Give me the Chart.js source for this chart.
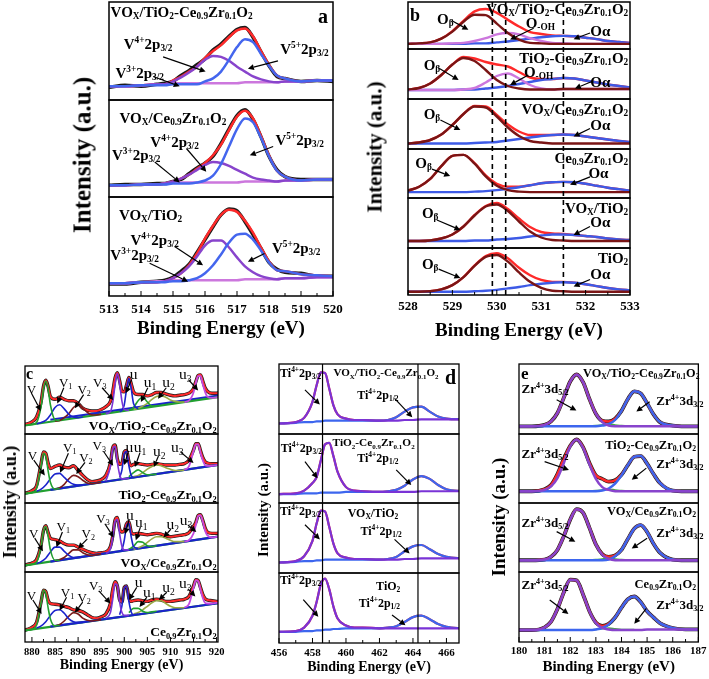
<!DOCTYPE html>
<html><head><meta charset="utf-8">
<script src="https://cdn.jsdelivr.net/npm/chart.js@4.4.1/dist/chart.umd.min.js"></script>
<style>
html,body{margin:0;padding:0;background:#fff;width:709px;height:679px;overflow:hidden;position:relative;font-family:"Liberation Serif","Times New Roman",serif;}
.panel{position:absolute;}
.panel canvas{position:absolute;left:0;top:0;}
.lbl{position:absolute;white-space:nowrap;line-height:1;color:#000;}
.lbl sub{font-size:0.62em;vertical-align:-0.32em;line-height:0;}
.lbl sup{font-size:0.62em;vertical-align:0.62em;line-height:0;}
.ytitle{position:absolute;white-space:nowrap;font-weight:bold;line-height:1;transform:translate(-50%,-50%) rotate(-90deg);color:#000;}
</style></head><body>
<script>
// ---------------- DATA ----------------
// Panel a : V 2p3/2
const ticksA = [513,514,515,516,517,518,519,520];
const xA = [513,513.5,514,514.5,514.75,515,515.25,515.5,515.75,516,516.25,516.5,516.75,517,517.25,517.5,517.75,518,518.25,518.5,519,519.5,520];
const a1Data = [13,15,14,16,17,19,25,30,36,42,51,57,65,72,74,64,49,35,24,22,19,20,19];
const a1Fit  = [14,14,15,16,16,20,24,29,34,43,50,56,64,71,73,65,50,36,25,22,19,20,20];
const a1V5   = [14,14,15,15,15,16,16,16,16,19,22,29,41,54,62,59,47,35,25,22,19,20,20];
const a1V4   = [14,14,15,16,16,19,23,28,34,41,45,44,40,34,29,24,21,19,18,19,19,20,20];
const a1V3   = [14,14,15,16,16,17,17,17,17,17,17,17,17,17,18,18,18,18,18,19,19,20,20];
const a2Data = [12,13,13,14,14,16,18,24,30,35,42,55,70,84,90,80,62,42,28,21,18,18,18];
const a2Fit  = [12,12,13,13,14,16,19,23,29,35,43,54,69,83,89,81,63,43,27,21,17,18,18];
const a2V5   = [12,12,13,13,13,14,14,14,15,17,22,34,52,70,81,77,61,42,27,21,17,18,18];
const a2V4   = [12,12,13,13,14,16,19,23,28,33,36,35,32,28,24,20,18,17,16,17,17,18,18];
const a2V3   = [12,12,13,13,14,15,15,15,15,15,15,15,15,15,16,16,16,16,16,17,17,18,18];
const a3Data = [12,12,14,15,16,19,25,32,44,57,70,82,88,86,75,62,48,34,27,24,23,20,20];
const a3Fit  = [13,13,14,14,15,18,23,31,43,58,71,82,87,85,76,64,49,35,26,25,22,21,20];
const a3V5   = [13,13,14,14,14,15,15,16,18,23,31,42,54,62,63,57,46,34,26,25,22,21,20];
const a3V4   = [13,13,14,14,15,18,23,30,40,51,56,56,49,39,30,24,20,18,17,18,18,19,19];
const a3V3   = [13,13,14,15,15,16,16,16,16,16,16,16,16,16,17,17,17,17,17,18,18,19,19];

// Panel b : O 1s
const ticksB = [528,529,530,531,532,533];
const refLinesB = [529.9,530.2,531.5];
const xB = [528,528.25,528.5,528.75,529,529.25,529.5,529.75,530,530.25,530.5,530.75,531,531.25,531.5,531.75,532,532.25,532.5,532.75,533];
const b1Fit = [11,12,14,22,38,60,80,85,77,62,48,36,32,29,28,27,24,21,17,15,13];
const b1Ob  = [11,12,14,22,37,58,73,72,54,34,20,13,12,11,11,11,11,11,11,11,11];
const b1Ooh = [11,11,11,11,12,13,17,23,31,34,31,23,17,13,12,11,11,11,11,11,11];
const b1Oa  = [11,11,11,11,11,11,12,12,14,16,19,22,25,27,28,27,24,21,17,15,13];
const b2Fit = [19,22,31,48,69,84,81,74,69,65,54,43,40,40,42,41,37,33,29,26,23];
const b2Ob  = [19,22,31,48,69,82,76,58,38,26,21,19,19,19,20,20,20,20,20,20,20];
const b2Ooh = [18,18,18,18,18,19,22,33,46,51,41,28,21,19,20,20,20,20,20,20,20];
const b2Oa  = [18,18,18,18,18,19,19,21,23,26,30,34,38,40,42,41,37,33,29,26,23];
const b3Fit = [11,13,18,29,48,70,86,85,68,49,35,28,28,28,29,28,25,22,19,16,14];
const b3Ob  = [11,13,18,29,48,70,85,83,65,43,26,16,13,11,11,11,11,11,11,11,11];
const b3Oa  = [11,11,11,11,11,11,12,13,14,17,20,23,26,28,29,28,25,22,19,16,14];
const b4Fit = [15,23,39,65,86,88,71,46,29,23,23,26,30,32,33,32,29,25,21,18,15];
const b4Ob  = [15,23,39,65,86,88,70,44,25,16,13,12,12,12,12,12,12,12,12,12,12];
const b4Oa  = [12,12,12,12,12,12,13,14,16,19,22,26,30,32,33,32,29,25,21,18,15];
const b5Fit = [14,14,15,19,27,43,66,84,90,78,59,42,32,29,28,26,24,22,19,17,16];
const b5Ob  = [14,14,15,19,27,43,65,83,87,74,53,33,21,16,15,14,14,14,14,14,14];
const b5Oa  = [14,14,14,14,14,14,15,15,17,18,20,23,25,27,27,26,24,22,19,17,16];
const b6Fit = [7,7,8,12,21,38,63,83,89,78,58,42,32,28,28,26,23,19,15,12,10];
const b6Ob  = [7,7,8,12,21,38,62,81,85,71,48,28,15,9,8,7,7,7,7,7,7];
const b6Oa  = [7,7,7,7,7,7,8,9,11,14,17,21,24,26,27,26,23,19,15,12,10];

// Panel c : Ce 3d
const ticksC = [880,885,890,895,900,905,910,915,920];
const xCfit = [878,879,880,881,882,882.5,883,883.5,884,885,886,887,888,889,890,891,892,893,894,895,896,897,897.5,898,898.5,899,899.5,900,900.5,901,901.5,902,903,904,905,906,907,908,909,910,911,912,913,914,915,915.5,916,916.5,917,917.5,918,919,920,921];
const c1Fit = [14,15,18,25,48,70,79,70,55,51,54,51,49,49,45,38,35,34,34,36,40,48,62,82,90,78,63,62,72,83,74,62,58,58,56,58,61,61,59,57,56,57,58,60,67,77,86,87,78,68,63,60,60,61];
const c2Fit = [14,15,18,25,58,74,72,58,50,53,55,52,51,54,47,40,34,31,32,34,40,58,80,84,64,56,58,74,76,60,54,56,57,56,55,56,57,56,55,55,55,56,57,62,77,86,86,76,66,60,58,57,57,58];
const c3Fit = [9,11,13,18,40,60,67,57,49,47,45,41,39,39,36,33,30,28,27,28,29,37,52,75,79,62,58,60,70,73,58,55,56,55,54,55,56,55,52,51,52,53,54,57,66,72,82,83,75,64,58,56,56,57];
const c4Fit = [16,18,21,28,58,74,72,60,55,54,53,51,49,46,45,43,39,35,34,36,40,55,75,86,80,60,57,78,80,63,58,59,60,59,58,60,61,60,58,58,59,60,61,65,80,89,88,78,68,62,60,59,58,58];
const xCv  = [879,880,881,882,882.5,883,883.5,884,885,886];
const c1V = [13,14,17,41,66,78,67,43,21,20];
const c2V = [14,15,21,55,72,68,47,30,20,21];
const c3V = [10,11,14,38,59,66,52,32,17,17];
const c4V = [17,18,24,57,74,69,49,33,23,24];
const xCv1 = [881,882,883,884,885,886,887,888,889,890,891];
const c1V1 = [15,17,20,28,39,43,37,29,25,24,25];
const c2V1 = [17,20,26,35,42,43,37,31,27,26,26];
const c3V1 = [12,15,20,29,36,36,30,24,21,21,22];
const c4V1 = [20,23,29,38,45,46,41,33,29,28,28];
const xCv2 = [885,886,887,888,889,890,891,892,893,894,895];
const c1V2 = [19,20,24,30,39,43,38,32,28,28,29];
const c2V2 = [20,22,27,35,40,38,33,29,28,29,30];
const c3V2 = [16,18,21,27,32,32,28,25,24,25,26];
const c4V2 = [23,25,30,37,42,40,34,31,30,31,32];
const xCv3 = [896,897,897.5,898,898.5,899,899.5,900,901];
const c1V3 = [30,33,46,72,89,73,48,36,35];
const c2V3 = [32,53,78,82,59,41,35,35,36];
const c3V3 = [27,33,49,73,76,55,37,32,32];
const c4V3 = [34,42,61,83,81,57,42,38,38];
const xCu  = [899,899.5,900,900.5,901,901.5,902,903];
const c1U = [33,35,43,66,82,67,45,37];
const c2U = [37,48,72,75,54,40,37,38];
const c3U = [30,33,46,67,71,51,37,34];
const c4U = [39,52,77,80,58,43,39,40];
const xCu1 = [901,902,903,904,905,906,907];
const c1U1 = [35,39,49,54,47,41,41];
const c2U1 = [38,44,48,44,41,41,42];
const c3U1 = [33,37,44,43,38,37,38];
const c4U1 = [42,48,48,44,42,43,44];
const xCu2 = [902,903,904,905,906,907,908,909,910,911,912,913];
const c1U2 = [36,38,41,45,51,55,56,54,50,48,47,47];
const c2U2 = [38,40,44,49,53,55,54,51,49,47,47,48];
const c3U2 = [33,35,38,43,48,51,51,49,46,44,44,44];
const c4U2 = [40,42,46,51,56,59,59,55,51,49,49,49];
const xCu3 = [913,914,915,915.5,916,916.5,917,917.5,918,919,920,921];
const c1U3 = [47,49,61,75,85,85,73,62,55,53,54,55];
const c2U3 = [48,53,75,85,85,73,62,55,54,54,55,56];
const c3U3 = [44,46,56,68,81,82,73,60,53,50,51,52];
const c4U3 = [49,54,77,88,87,75,63,56,55,55,56,56];
const xCbase  = [878,921];
const c1Base = [12,55], c2Base = [13,56], c3Base = [9,52], c4Base = [16,56];
const xCbase2 = [884,921];
const c1Base2 = [21,57], c2Base2 = [19,56], c3Base2 = [15,52], c4Base2 = [22,56];

// Panel d : Ti 2p
const ticksD = [456,458,460,462,464,466];
const refLinesD = [458.6,464.3];
const xD = [456,457,457.5,458,458.25,458.5,458.75,459,459.25,459.5,460,460.5,461,462,462.5,463,463.5,464,464.5,465,465.5,466,467];
const d1P = [15,17,23,46,70,88,87,65,41,28,22,20,20,19,19,19,20,20,21,21,21,21,21];
const d1B = [15,16,17,17,18,18,19,19,19,19,19,19,19,19,20,24,32,38,39,32,25,22,21];
const d1Fit = [15,17,23,46,70,88,87,65,41,28,22,20,20,19,20,24,32,38,39,32,25,22,21];
const d2P = [13,14,18,29,38,62,85,87,68,45,23,18,17,16,16,16,16,16,17,17,17,17,17];
const d2B = [13,13,14,14,14,15,15,15,15,15,16,16,16,16,17,19,25,34,39,35,26,20,17];
const d2Fit = [13,14,18,29,38,62,85,87,68,45,23,18,17,16,17,19,25,34,39,35,26,20,17];
const d3P = [15,17,24,46,71,89,88,66,42,28,22,20,20,19,19,19,20,20,21,21,21,21,21];
const d3B = [15,16,17,17,18,18,19,19,19,19,19,19,19,19,20,23,31,38,40,34,27,23,21];
const d3Fit = [15,17,24,46,71,89,88,66,42,28,22,20,20,19,20,23,31,38,40,34,27,23,21];
const d4P = [16,17,22,39,59,84,92,77,52,35,25,22,22,21,21,21,21,21,21,21,21,21,21];
const d4B = [16,16,17,17,18,18,19,19,20,20,21,21,21,21,22,24,30,37,39,34,27,23,21];
const d4Fit = [16,17,22,39,59,84,92,77,52,35,25,22,22,21,22,24,30,37,39,34,27,23,21];

// Panel e : Zr 3d
const ticksE = [180,181,182,183,184,185,186,187];
const xE = [180,180.5,181,181.25,181.5,181.75,182,182.25,182.5,182.75,183,183.25,183.5,183.75,184,184.25,184.5,184.75,185,185.25,185.5,186,186.5,187];
const e1P = [11,11,13,18,30,52,75,85,74,50,29,17,12,11,11,11,11,11,11,11,11,11,11,11];
const e1B = [11,11,11,11,11,11,11,11,11,11,11,12,14,20,33,50,61,58,44,28,17,12,11,11];
const e1Fit = [11,11,13,18,30,52,75,85,74,50,29,19,18,22,33,50,61,58,44,28,17,12,11,11];
const e2P = [17,17,19,24,36,58,82,92,80,56,35,23,19,17,17,17,17,17,17,17,17,17,17,17];
const e2B = [17,17,17,17,17,17,17,17,17,17,17,18,21,28,40,55,67,68,57,42,29,18,17,17];
const e2Fit = [17,17,20,26,42,64,83,92,81,58,40,35,31,33,41,55,67,68,57,42,29,18,17,17];
const e3P = [17,17,18,22,32,52,76,91,86,64,40,25,19,17,17,17,17,17,17,17,17,17,17,17];
const e3B = [17,17,17,17,17,17,17,17,17,17,17,17,18,23,32,48,63,68,58,41,28,18,17,17];
const e3Fit = [17,17,18,22,32,52,76,91,86,64,40,26,22,24,32,48,63,68,58,41,28,18,17,17];
const e4P = [17,17,21,29,47,71,89,88,68,44,27,20,18,17,17,17,17,17,18,18,18,18,18,18];
const e4B = [17,17,17,17,17,17,17,17,17,17,18,20,25,35,49,61,65,57,44,35,27,20,18,18];
const e4Fit = [17,17,21,29,47,71,89,88,68,44,28,23,26,35,49,61,65,57,44,35,27,20,18,18];
const xEg = [182.5,183,183.25,183.5,183.75,184,184.5];
const e1G = [11,12,13,14,13,12,11], e2G = [17,18,19,20,19,18,17], e3G = [17,18,19,20,19,18,17], e4G = [17,18,19,20,19,18,18];

// ---------------- STYLE / HELPERS ----------------
const FONT = '"Liberation Serif","Times New Roman",serif';
Chart.defaults.font.family = FONT;
Chart.defaults.color = '#000';
const RED = '#ff2a2a', BLK = '#1a1a1a';

function pts(xs, ys) { return xs.map((x, i) => ({ x: x, y: ys[i] })); }
function line(sub, xs, ys, color, width, order) {
  return { data: pts(xs, ys), yAxisID: 'y' + sub, borderColor: color, backgroundColor: color,
    borderWidth: width, pointRadius: 0, fill: false, cubicInterpolationMode: 'monotone', order: order };
}
function rich(t) {
  return t.replace(/\^\{([^}]*)\}/g, '<sup>$1</sup>').replace(/_\{([^}]*)\}/g, '<sub>$1</sub>');
}
function deco(p) {
  return {
    id: 'deco',
    afterDatasetsDraw(chart) {
      const ctx = chart.ctx, xs = chart.scales.x, A = chart.chartArea;
      ctx.save();
      if (p.refLines) {
        ctx.strokeStyle = '#000'; ctx.lineWidth = p.refWidth; ctx.setLineDash(p.refDash);
        for (const v of p.refLines) {
          const px = xs.getPixelForValue(v);
          ctx.beginPath(); ctx.moveTo(px, A.top); ctx.lineTo(px, A.bottom); ctx.stroke();
        }
        ctx.setLineDash([]);
      }
      ctx.strokeStyle = '#000'; ctx.lineWidth = p.frame;
      for (let i = 0; i < p.weights.length; i++) {
        const ys = chart.scales['y' + i];
        const t = ys.getPixelForValue(100), b = ys.getPixelForValue(0);
        ctx.strokeRect(A.left, t, A.right - A.left, b - t);
      }
      ctx.lineWidth = 1;
      for (const v of p.ticks) { const px = xs.getPixelForValue(v); ctx.beginPath(); ctx.moveTo(px, A.bottom); ctx.lineTo(px, A.bottom - 5); ctx.stroke(); }
      for (const v of p.minor) { const px = xs.getPixelForValue(v); ctx.beginPath(); ctx.moveTo(px, A.bottom); ctx.lineTo(px, A.bottom - 3); ctx.stroke(); }
      ctx.fillStyle = '#000'; ctx.lineWidth = 1.2;
      for (const a of p.arrows) {
        const ys = chart.scales['y' + a[0]];
        const x1 = xs.getPixelForValue(a[1]), y1 = ys.getPixelForValue(a[2]);
        const x2 = xs.getPixelForValue(a[3]), y2 = ys.getPixelForValue(a[4]);
        const ang = Math.atan2(y2 - y1, x2 - x1), hl = 6, hw = 3;
        const bx = x2 - hl * Math.cos(ang), by = y2 - hl * Math.sin(ang);
        ctx.beginPath(); ctx.moveTo(x1, y1); ctx.lineTo(bx, by); ctx.stroke();
        ctx.beginPath(); ctx.moveTo(x2, y2);
        ctx.lineTo(bx + hw * Math.sin(ang), by - hw * Math.cos(ang));
        ctx.lineTo(bx - hw * Math.sin(ang), by + hw * Math.cos(ang));
        ctx.closePath(); ctx.fill();
      }
      ctx.restore();
    }
  };
}
function makePanel(p) {
  const wrap = document.createElement('div');
  wrap.className = 'panel';
  wrap.style.left = p.left + 'px'; wrap.style.top = p.top + 'px';
  wrap.style.width = p.width + 'px'; wrap.style.height = p.height + 'px';
  document.body.appendChild(wrap);
  const cv = document.createElement('canvas');
  cv.width = p.width; cv.height = p.height;
  cv.style.width = p.width + 'px'; cv.style.height = p.height + 'px';
  wrap.appendChild(cv);
  const scales = {
    x: { type: 'linear', position: 'bottom', min: p.xmin, max: p.xmax,
      grid: { display: false, drawTicks: false }, border: { display: false },
      afterBuildTicks: s => { s.ticks = p.ticks.map(v => ({ value: v })); },
      afterFit: s => { s.height = p.axisH; },
      ticks: { autoSkip: false, maxRotation: 0, minRotation: 0, padding: p.tickPad, color: '#000',
        font: { family: FONT, size: p.tickSize, weight: 'bold', lineHeight: 1.2 },
        callback: v => String(v) },
      title: { display: true, text: 'Binding Energy (eV)', color: '#000', padding: { top: 0, bottom: 0 },
        font: { family: FONT, size: p.titleSize, weight: 'bold', lineHeight: p.titleLH } } }
  };
  // each sub-panel gets its own y scale whose 0..100 range maps onto its band of the plot
  const W = p.weights.reduce((s, w) => s + w, 0);
  let cum = 0;
  p.weights.forEach((w, i) => {
    const f0 = cum / W, f1 = (cum + w) / W, R = 100 / (f1 - f0);
    scales['y' + i] = { type: 'linear', position: 'left', min: f1 * R - R, max: f1 * R, display: false };
    cum += w;
  });
  const chart = new Chart(cv, {
    type: 'line',
    data: { datasets: p.datasets },
    options: { responsive: false, animation: false, devicePixelRatio: 1, events: [],
      layout: { padding: p.pad },
      plugins: { legend: { display: false }, tooltip: { enabled: false } },
      scales: scales },
    plugins: [deco(p)]
  });
  const xs = chart.scales.x;
  for (const L of p.labels) {
    const px = xs.getPixelForValue(L[1]), py = chart.scales['y' + L[0]].getPixelForValue(L[2]);
    const d = document.createElement('div');
    d.className = 'lbl';
    d.innerHTML = rich(L[3]);
    d.style.left = px + 'px'; d.style.top = py + 'px';
    d.style.fontSize = L[5] + 'px';
    d.style.fontWeight = L[6] === 'n' ? 'normal' : 'bold';
    d.style.transform = L[4] === 'l' ? 'translate(0,-50%)' : (L[4] === 'r' ? 'translate(-100%,-50%)' : 'translate(-50%,-50%)');
    wrap.appendChild(d);
  }
  const yt = document.createElement('div');
  yt.className = 'ytitle';
  yt.textContent = 'Intensity (a.u.)';
  yt.style.left = (p.yTitle[0] - p.left) + 'px'; yt.style.top = (p.yTitle[1] - p.top) + 'px';
  yt.style.fontSize = p.yTitle[2] + 'px';
  wrap.appendChild(yt);
}
function half(a, b, s) { const r = []; for (let v = a; v <= b + 1e-9; v += s) r.push(v); return r; }

// ---------------- PANEL A ----------------
(function () {
  const V5 = '#4466ee', V4 = '#8844cc', V3 = '#cc77dd';
  const D = [[a1Data, a1Fit, a1V5, a1V4, a1V3], [a2Data, a2Fit, a2V5, a2V4, a2V3], [a3Data, a3Fit, a3V5, a3V4, a3V3]];
  const ds = [];
  D.forEach((s, i) => {
    ds.push(line(i, xA, s[2], V5, 2.5, 1));
    ds.push(line(i, xA, s[3], V4, 2.5, 1));
    ds.push(line(i, xA, s[4], V3, 2.5, 2));
    ds.push(line(i, xA, s[1], RED, 2.5, 3));
    ds.push(line(i, xA, s[0], BLK, 3.5, 4));
  });
  makePanel({
    left: 85, top: 0, width: 265, height: 340, pad: { left: 24, right: 17, top: 2, bottom: 0 },
    xmin: 513, xmax: 520, ticks: ticksA, minor: half(513.5, 519.5, 1), tickSize: 13, tickPad: 6, axisH: 44,
    titleSize: 19, titleLH: 1.2, weights: [98, 97, 99], frame: 1.5,
    datasets: ds, yTitle: [82, 155, 25],
    labels: [
      [0, 513.05, 90, 'VO_{X}/TiO_{2}-Ce_{0.9}Zr_{0.1}O_{2}', 'l', 15],
      [0, 519.69, 86, 'a', 'c', 20],
      [0, 514.22, 57, 'V^{4+}2p_{3/2}', 'c', 15],
      [0, 513.96, 28, 'V^{3+}2p_{3/2}', 'c', 15],
      [0, 519.11, 52, 'V^{5+}2p_{3/2}', 'c', 15],
      [1, 513.33, 81, 'VO_{X}/Ce_{0.9}Zr_{0.1}O_{2}', 'l', 15],
      [1, 515.05, 57, 'V^{4+}2p_{3/2}', 'c', 15],
      [1, 513.85, 43, 'V^{3+}2p_{3/2}', 'c', 15],
      [1, 518.96, 58.5, 'V^{5+}2p_{3/2}', 'c', 15],
      [2, 513.31, 82, 'VO_{X}/TiO_{2}', 'l', 15],
      [2, 514.43, 57, 'V^{4+}2p_{3/2}', 'c', 15],
      [2, 513.8, 41.5, 'V^{3+}2p_{3/2}', 'c', 15],
      [2, 518.85, 48, 'V^{5+}2p_{3/2}', 'c', 15]
    ],
    arrows: [
      [0, 514.69, 44, 516.02, 29], [0, 514.38, 24, 515.21, 14], [0, 518.28, 40, 517.34, 32],
      [1, 515.42, 50, 516.04, 26], [1, 514.43, 36, 515.21, 15], [1, 518.13, 52, 517.4, 43],
      [2, 515.05, 50, 515.94, 31], [2, 514.27, 33, 515.47, 14.5], [2, 517.86, 43, 517.34, 34.5]
    ]
  });
})();

// ---------------- PANEL B ----------------
(function () {
  const OB = '#7a1515', OOH = '#cc77dd', OA = '#3d5ae6';
  const D = [[b1Fit, b1Ob, b1Oa, b1Ooh], [b2Fit, b2Ob, b2Oa, b2Ooh], [b3Fit, b3Ob, b3Oa], [b4Fit, b4Ob, b4Oa], [b5Fit, b5Ob, b5Oa], [b6Fit, b6Ob, b6Oa]];
  const ds = [];
  D.forEach((s, i) => {
    ds.push(line(i, xB, s[1], OB, 2.4, 1));
    if (s[3]) ds.push(line(i, xB, s[3], OOH, 2.4, 1));
    ds.push(line(i, xB, s[2], OA, 2.4, 1));
    ds.push(line(i, xB, s[0], RED, 2.4, 3));
  });
  makePanel({
    left: 384, top: 0, width: 263, height: 342, pad: { left: 24, right: 17, top: 2, bottom: 0 },
    xmin: 528, xmax: 533, ticks: ticksB, minor: half(528.5, 532.5, 1), tickSize: 13, tickPad: 4, axisH: 47,
    titleSize: 19, titleLH: 1.2, weights: [47, 50, 50, 49, 50, 47], frame: 1.5,
    refLines: refLinesB, refWidth: 1.6, refDash: [5, 4],
    datasets: ds, yTitle: [375, 147, 21],
    labels: [
      [0, 528.16, 72, 'b', 'c', 18],
      [0, 532.96, 86, 'VO_{X}/TiO_{2}-Ce_{0.9}Zr_{0.1}O_{2}', 'r', 15],
      [0, 528.84, 63, 'O_{β}', 'c', 15],
      [0, 530.98, 56, 'O_{-OH}', 'c', 15],
      [0, 532.33, 39, 'Oα', 'c', 15],
      [1, 532.96, 82, 'TiO_{2}-Ce_{0.9}Zr_{0.1}O_{2}', 'r', 15],
      [1, 528.54, 68, 'O_{β}', 'c', 15],
      [1, 530.94, 55, 'O_{-OH}', 'c', 15],
      [1, 532.33, 35, 'Oα', 'c', 15],
      [2, 532.96, 81, 'VO_{X}/Ce_{0.9}Zr_{0.1}O_{2}', 'r', 15],
      [2, 528.54, 71, 'O_{β}', 'c', 15],
      [2, 532.33, 48, 'Oα', 'c', 15],
      [3, 532.96, 81, 'Ce_{0.9}Zr_{0.1}O_{2}', 'r', 15],
      [3, 528.35, 71, 'O_{β}', 'c', 15],
      [3, 532.29, 51, 'Oα', 'c', 15],
      [4, 532.96, 80, 'VO_{X}/TiO_{2}', 'r', 15],
      [4, 528.5, 70, 'O_{β}', 'c', 15],
      [4, 532.33, 53, 'Oα', 'c', 15],
      [5, 532.96, 78, 'TiO_{2}', 'r', 15],
      [5, 528.5, 66, 'O_{β}', 'c', 15],
      [5, 532.33, 44, 'Oα', 'c', 15]
    ],
    arrows: [
      [0, 528.99, 60, 529.36, 41], [0, 530.83, 44, 530.3, 20], [0, 532.1, 34, 531.73, 21],
      [1, 528.69, 62, 529.14, 38], [1, 530.71, 48, 530.3, 28], [1, 532.14, 35, 531.76, 21],
      [2, 528.73, 58, 529.18, 38], [2, 532.1, 41, 531.73, 25],
      [3, 528.54, 59, 528.95, 45], [3, 532.1, 43, 531.65, 27],
      [4, 528.65, 56, 529.18, 36], [4, 532.1, 43, 531.73, 26],
      [5, 528.69, 55, 529.18, 36], [5, 532.1, 33, 531.73, 18]
    ]
  });
})();

// ---------------- PANEL C ----------------
(function () {
  const G = '#22a030', B = '#1a22cc', DR = '#7a1a1a', P = '#7a33d6', M = '#c34ae0', OL = '#99aa44';
  const fits = [c1Fit, c2Fit, c3Fit, c4Fit];
  const V = [c1V, c2V, c3V, c4V], V1 = [c1V1, c2V1, c3V1, c4V1], V2 = [c1V2, c2V2, c3V2, c4V2], V3 = [c1V3, c2V3, c3V3, c4V3];
  const U = [c1U, c2U, c3U, c4U], U1 = [c1U1, c2U1, c3U1, c4U1], U2 = [c1U2, c2U2, c3U2, c4U2], U3 = [c1U3, c2U3, c3U3, c4U3];
  const BG = [c1Base, c2Base, c3Base, c4Base], BB = [c1Base2, c2Base2, c3Base2, c4Base2];
  const ds = [];
  for (let i = 0; i < 4; i++) {
    ds.push(line(i, xCv, V[i], G, 1.6, 1));
    ds.push(line(i, xCv1, V1[i], B, 1.6, 1));
    ds.push(line(i, xCv2, V2[i], DR, 1.6, 1));
    ds.push(line(i, xCv3, V3[i], P, 1.6, 1));
    ds.push(line(i, xCu, U[i], B, 1.6, 1));
    ds.push(line(i, xCu1, U1[i], G, 1.6, 1));
    ds.push(line(i, xCu2, U2[i], OL, 1.6, 1));
    ds.push(line(i, xCu3, U3[i], M, 1.8, 1));
    ds.push(line(i, xCbase, BG[i], G, 2.2, i === 0 ? 2 : 2.5));
    ds.push(line(i, xCbase2, BB[i], B, 2.2, i === 0 ? 2.5 : 2));
    ds.push(line(i, xCfit, fits[i], RED, 2, 3));
    ds.push(line(i, xCfit, fits[i], BLK, 3.4, 4));
  }
  const vl = (s, a) => [
    [s, a[0][0], a[0][1], 'V', 'c', 13, 'n'], [s, a[1][0], a[1][1], 'V_{1}', 'c', 13, 'n'],
    [s, a[2][0], a[2][1], 'V_{2}', 'c', 13, 'n'], [s, a[3][0], a[3][1], 'V_{3}', 'c', 13, 'n'],
    [s, a[4][0], a[4][1], 'u', 'c', 15.5, 'n'], [s, a[5][0], a[5][1], 'u_{1}', 'c', 15.5, 'n'],
    [s, a[6][0], a[6][1], 'u_{2}', 'c', 15.5, 'n'], [s, a[7][0], a[7][1], 'u_{3}', 'c', 15.5, 'n']];
  const labels = [[0, 878.7, 88, 'c', 'l', 16]]
    .concat(vl(0, [[879.9, 66], [887.3, 76], [891.3, 66], [894.7, 76], [902, 88], [905.6, 76], [909.6, 76], [913.2, 88]]))
    .concat(vl(1, [[880.1, 69], [888.2, 81], [891.7, 67], [894.6, 84], [901.1, 81], [903.4, 81], [907.6, 76], [911.5, 81]]))
    .concat(vl(2, [[880.4, 56], [886.8, 66], [892.2, 56], [895.4, 78], [901.2, 83], [903.7, 73], [910.5, 70], [913.4, 75]]))
    .concat(vl(3, [[879.9, 67], [887.7, 72], [891.3, 65], [893.8, 81], [903.1, 86], [905.4, 72], [909.6, 79], [913.2, 84]]))
    .concat([
      [0, 920, 12, 'VO_{X}/TiO_{2}-Ce_{0.9}Zr_{0.1}O_{2}', 'r', 13.5],
      [1, 920, 11, 'TiO_{2}-Ce_{0.9}Zr_{0.1}O_{2}', 'r', 13.5],
      [2, 920, 12.5, 'VO_{X}/Ce_{0.9}Zr_{0.1}O_{2}', 'r', 13.5],
      [3, 920, 15, 'Ce_{0.9}Zr_{0.1}O_{2}', 'r', 13.5]]);
  makePanel({
    left: 11, top: 360, width: 221, height: 312, pad: { left: 14, right: 14, top: 6, bottom: 0 },
    xmin: 878.5, xmax: 920.3, ticks: ticksC, minor: half(882.5, 917.5, 5), tickSize: 10.5, tickPad: 3.7, axisH: 30,
    titleSize: 14, titleLH: 1, weights: [68, 69, 69, 70], frame: 1.3,
    datasets: ds, yTitle: [10, 502, 18], labels: labels,
    arrows: [
      [0, 879.9, 60, 881.9, 34], [0, 886.9, 68, 885.5, 45], [0, 891.2, 58, 889.3, 38], [0, 895.2, 68, 897.6, 50],
      [0, 901.6, 80, 900.3, 60], [0, 905.1, 68, 903.6, 47], [0, 909.1, 68, 907.3, 52], [0, 913.9, 80, 916, 64],
      [1, 880.4, 62, 882.8, 40], [1, 887.9, 72, 886.1, 44], [1, 891.5, 59, 889.6, 42], [1, 895.5, 75, 897.6, 54],
      [1, 900.8, 73, 900, 55], [1, 903.4, 73, 902.3, 52], [1, 907.4, 68, 906.4, 52], [1, 912.2, 74, 915, 58],
      [2, 880.6, 49, 882.4, 30], [2, 886.6, 58, 885.3, 36], [2, 892, 48, 890, 34], [2, 895.8, 70, 897.7, 50],
      [2, 901, 75, 900.2, 55], [2, 903.5, 65, 902.5, 46], [2, 910.1, 62, 908.5, 50], [2, 913.8, 68, 915.6, 58],
      [3, 880.2, 60, 882.1, 40], [3, 887.5, 64, 886, 45], [3, 891, 57, 889.3, 42], [3, 894.5, 73, 897, 55],
      [3, 902.7, 78, 901, 60], [3, 904.9, 64, 903.3, 50], [3, 909.2, 71, 907.5, 60], [3, 913.8, 76, 915.4, 65]
    ]
  });
})();

// ---------------- PANEL D ----------------
(function () {
  const P = '#7a33d6', B = '#3d66ee';
  const D = [[d1Fit, d1P, d1B], [d2Fit, d2P, d2B], [d3Fit, d3P, d3B], [d4Fit, d4P, d4B]];
  const ds = [];
  D.forEach((s, i) => {
    ds.push(line(i, xD, s[1], P, 2.2, 1));
    ds.push(line(i, xD, s[2], B, 2.2, 2));
    ds.push(line(i, xD, s[0], RED, 2.2, 3));
  });
  makePanel({
    left: 263, top: 358, width: 212, height: 316, pad: { left: 16, right: 16, top: 6, bottom: 0 },
    xmin: 456, xmax: 466.75, ticks: ticksD, minor: half(457, 465, 2), tickSize: 11, tickPad: 3.4, axisH: 31,
    titleSize: 14, titleLH: 1, weights: [70, 69, 70, 70], frame: 1.3,
    refLines: refLinesD, refWidth: 1.2, refDash: [],
    datasets: ds, yTitle: [263, 510, 15],
    labels: [
      [0, 456.06, 87, 'Ti^{4+}2p_{3/2}', 'l', 12],
      [0, 459.25, 87, 'VO_{X}/TiO_{2}-Ce_{0.9}Zr_{0.1}O_{2}', 'l', 11.1],
      [0, 466.25, 82, 'd', 'c', 20],
      [0, 461.9, 56, 'Ti^{4+}2p_{1/2}', 'c', 12],
      [1, 459.2, 86.5, 'TiO_{2}-Ce_{0.9}Zr_{0.1}O_{2}', 'l', 11.3],
      [1, 456.1, 79, 'Ti^{4+}2p_{3/2}', 'l', 12],
      [1, 461.9, 65, 'Ti^{4+}2p_{1/2}', 'c', 12],
      [2, 456.06, 88, 'Ti^{4+}2p_{3/2}', 'l', 12],
      [2, 460.1, 86, 'VO_{X}/TiO_{2}', 'l', 12],
      [2, 462.1, 60, 'Ti^{4+}2p_{1/2}', 'c', 12],
      [3, 456.06, 90, 'Ti^{4+}2p_{3/2}', 'l', 12],
      [3, 461.8, 81, 'TiO_{2}', 'l', 12],
      [3, 462, 57, 'Ti^{4+}2p_{1/2}', 'c', 12]
    ],
    arrows: [
      [0, 457.55, 63, 458.44, 42], [0, 462.9, 51, 463.96, 24],
      [1, 457.55, 60, 458.3, 36], [1, 463.0, 48, 463.9, 26],
      [2, 457.55, 69, 458.44, 48], [2, 462.9, 48, 463.8, 28],
      [3, 457.45, 62, 458.35, 37.5], [3, 462.75, 40, 463.55, 25.5]
    ]
  });
})();

// ---------------- PANEL E ----------------
(function () {
  const P = '#8844cc', B = '#3d66ee', G = '#44aa44';
  const D = [[e1Fit, e1P, e1B, e1G], [e2Fit, e2P, e2B, e2G], [e3Fit, e3P, e3B, e3G], [e4Fit, e4P, e4B, e4G]];
  const ds = [];
  D.forEach((s, i) => {
    ds.push(line(i, xE, s[1], P, 2.5, 1));
    ds.push(line(i, xE, s[2], B, 2.5, 1));
    ds.push(line(i, xEg, s[3], G, 1.5, 2));
    ds.push(line(i, xE, s[0], RED, 2.5, 3));
    ds.push(line(i, xE, s[0], BLK, 3.8, 4));
  });
  makePanel({
    left: 503, top: 358, width: 206, height: 317, pad: { left: 16, right: 9, top: 6, bottom: 0 },
    xmin: 180, xmax: 187, ticks: ticksE, minor: half(180.5, 186.5, 1), tickSize: 11, tickPad: 2.4, axisH: 33,
    titleSize: 15, titleLH: 1, weights: [70, 69, 69, 70], frame: 1.3,
    datasets: ds, yTitle: [498, 517, 19],
    labels: [
      [0, 180.23, 87, 'e', 'c', 17],
      [0, 182.5, 87, 'VO_{X}/TiO_{2}-Ce_{0.9}Zr_{0.1}O_{2}', 'l', 12.3],
      [0, 180.1, 65.5, 'Zr^{4+}3d_{5/2}', 'l', 13],
      [0, 185.36, 49, 'Zr^{4+}3d_{3/2}', 'l', 13],
      [1, 186.91, 84, 'TiO_{2}-Ce_{0.9}Zr_{0.1}O_{2}', 'r', 12.5],
      [1, 180.1, 72, 'Zr^{4+}3d_{5/2}', 'l', 13],
      [1, 185.36, 58, 'Zr^{4+}3d_{3/2}', 'l', 13],
      [2, 186.91, 88, 'VO_{X}/Ce_{0.9}Zr_{0.1}O_{2}', 'r', 12.5],
      [2, 180.1, 72, 'Zr^{4+}3d_{5/2}', 'l', 13],
      [2, 185.36, 58.5, 'Zr^{4+}3d_{3/2}', 'l', 13],
      [3, 186.91, 83, 'Ce_{0.9}Zr_{0.1}O_{2}', 'r', 12.5],
      [3, 180.1, 83, 'Zr^{4+}3d_{5/2}', 'l', 13],
      [3, 185.36, 55, 'Zr^{4+}3d_{3/2}', 'l', 13]
    ],
    arrows: [
      [0, 181.47, 49, 182.24, 33.5], [0, 185.1, 46, 184.58, 32],
      [1, 181.0, 60, 181.95, 48], [1, 184.97, 50.5, 184.4, 33.6],
      [2, 181.47, 58.5, 182.2, 44], [2, 185.0, 49, 184.4, 34],
      [3, 181.2, 60, 181.93, 40], [3, 184.97, 48, 184.5, 26]
    ]
  });
})();
</script>
</body></html>
